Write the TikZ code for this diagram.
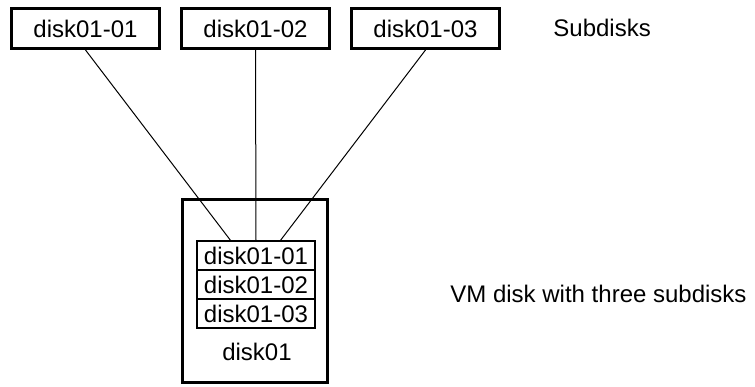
\documentclass[tikz,border=0pt]{standalone}
\usepackage{fontspec}
\setmainfont{Liberation Sans}
\usepackage{tikz}
\usetikzlibrary{positioning}
\tikzset{
  subdisk/.style={draw,line width=1.5pt,minimum width=74pt,minimum height=20pt,inner sep=0pt,font=\fontsize{12}{14}\selectfont},
  row/.style={draw,line width=1pt,minimum width=59pt,minimum height=14.5pt,inner sep=0pt,outer sep=0pt,font=\fontsize{12}{14}\selectfont},
  lbl/.style={inner sep=0pt,font=\fontsize{12}{14}\selectfont}
}
\begin{document}
\begin{tikzpicture}[x=0.5pt,y=-0.5pt]
\useasboundingbox (0,0) rectangle (755,386);
\node(SD1) [subdisk] at (85.5,28.5)     {disk01-01};
\node(SD2) [subdisk,right=9.5pt of SD1] {disk01-02};
\node(SD3) [subdisk,right=9.5pt of SD2] {disk01-03};
\node(SUB) [lbl,anchor=west] at (553,28) {Subdisks};
\node(VM)  [draw,line width=1.5pt,minimum width=72.5pt,minimum height=91.5pt] at (255,291) {};
\node(R1)  [row] at (256,255.5)         {disk01-01};
\node(R2)  [row,below=0pt of R1]        {disk01-02};
\node(R3)  [row,below=0pt of R2]        {disk01-03};
\node(DL)  [lbl] at (257,352)           {disk01};
\node(VML) [lbl,anchor=west] at (450,294) {VM disk with three subdisks};
\foreach \x/\s in {1/-12.5pt,2/0pt,3/12pt} {
\draw[line width=0.5pt] (SD\x.south) -- ([xshift=\s]R1.north);
}
\end{tikzpicture}
\end{document}
